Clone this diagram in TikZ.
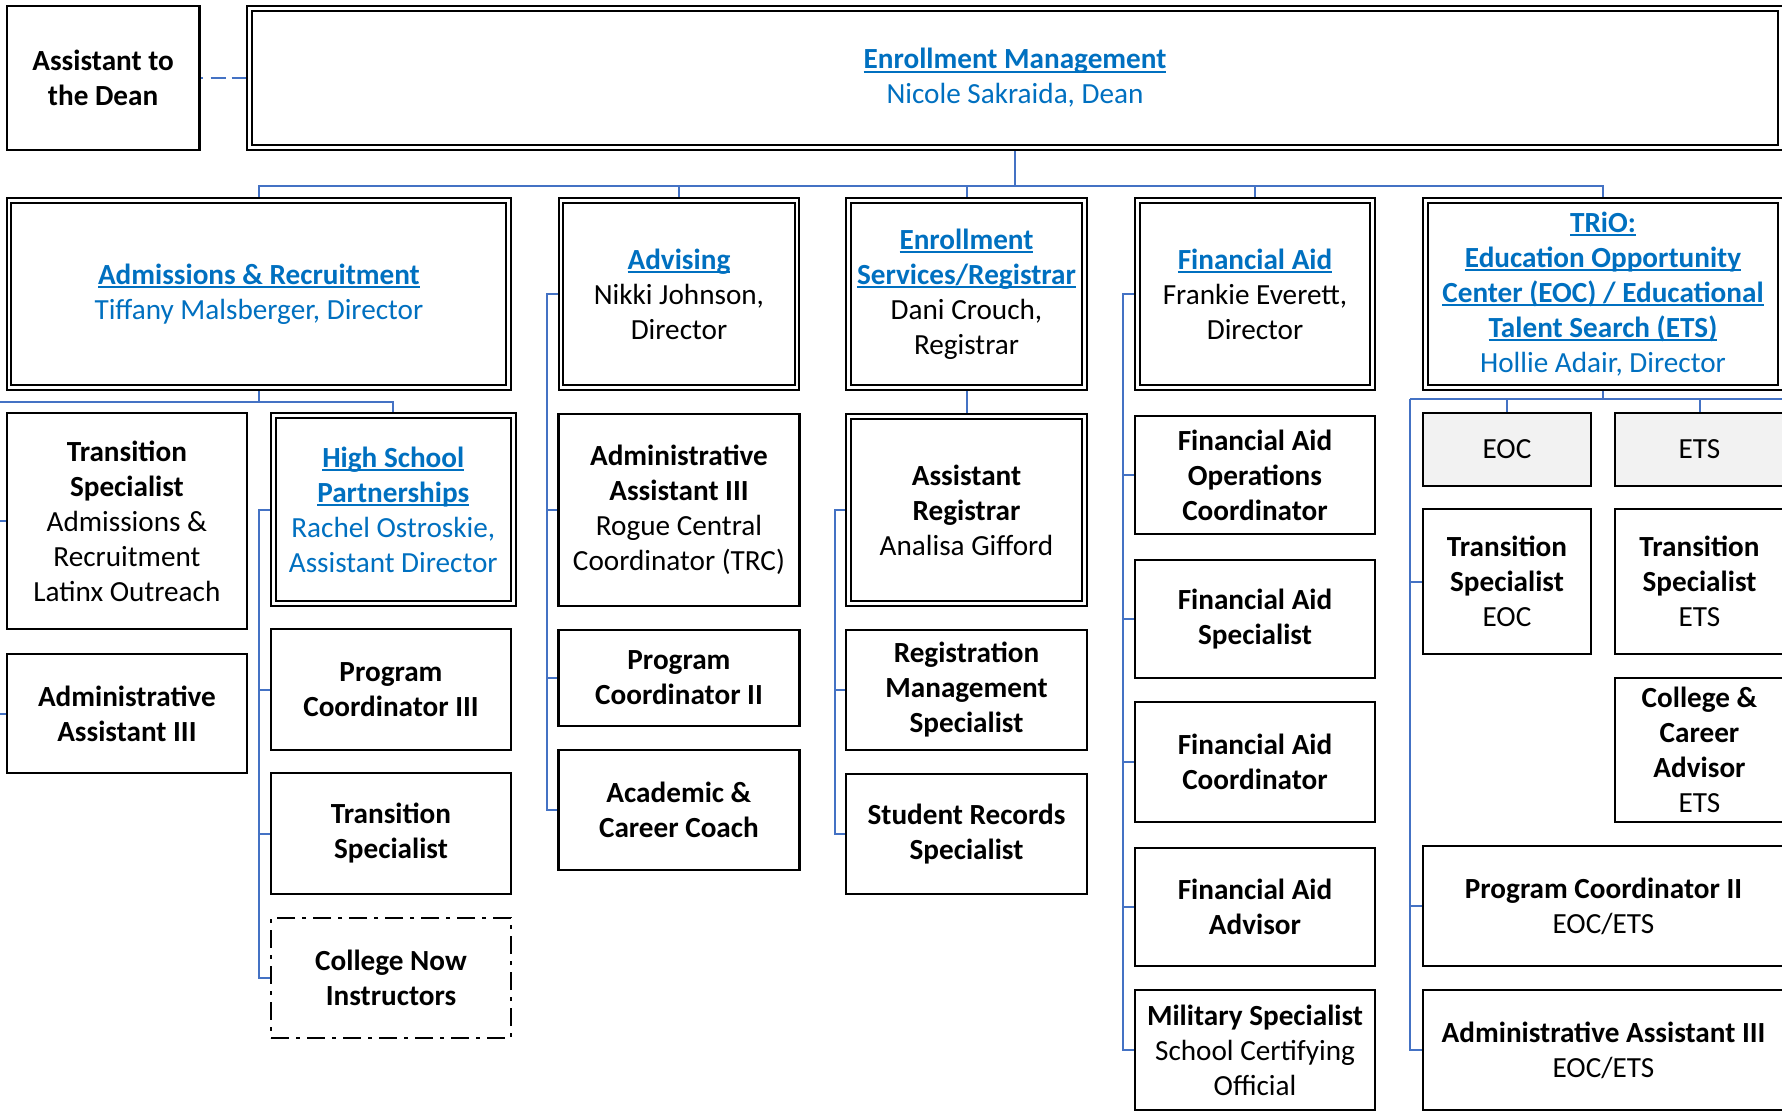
\documentclass[tikz,border=0pt]{standalone}
\usepackage{fontspec}
\setmainfont{Carlito}
\usetikzlibrary{backgrounds}
\definecolor{tblue}{HTML}{0070C0}
\definecolor{lblue}{HTML}{4472C4}
\definecolor{gfill}{HTML}{F2F2F2}
\newsavebox\ulbox
\newcommand\fs{\fontsize{14.6pt}{17.5pt}\selectfont}
\newcommand\ttl[1]{\leavevmode{\color{tblue}\sbox\ulbox{\bfseries #1}\rlap{\rule[-1.9pt]{\wd\ulbox}{0.9pt}}\usebox\ulbox}}
\newcommand\bnm[1]{\textcolor{tblue}{#1}}
\tikzset{
  rc/.style args={#1/#2/#3/#4}{at={({(#1+#3)/2},{(#2+#4)/2})},
     minimum width={(#3-#1)*0.5pt}, minimum height={(#4-#2)*0.5pt}},
  bx/.style={draw, line width=1.25pt, fill=white, inner sep=0pt, align=center, font=\fs},
  dbl/.style={bx, double, line width=1pt, double distance=1.3pt},
  gray/.style={bx, fill=gfill},
  dashdot/.style={bx, dash pattern=on 9pt off 3.5pt on 2pt off 3.5pt},
  conn/.style={draw=lblue, line width=1pt},
}
\begin{document}
\begin{tikzpicture}[x=0.5pt, y=-0.5pt]
\useasboundingbox (0,0) rectangle (1782,1112);
% top
\node[bx, rc=6.8/6/199.4/150] (asst) {\textbf{Assistant to}\\\textbf{the Dean}};
\node[dbl, rc=249.3/8.3/1780.7/147.7] (em) {\ttl{Enrollment Management}\\\bnm{Nicole Sakraida, Dean}};
% directors
\node[dbl, rc=9.1/200.3/508.7/387.7] (adm) {\ttl{Admissions \& Recruitment}\\\bnm{Tiffany Malsberger, Director}};
\node[dbl, rc=560.8/200.3/797.1/387.7] (adv) {\ttl{Advising}\\Nikki Johnson,\\Director};
\node[dbl, rc=848.3/200.3/1084.7/387.7] (es) {\ttl{Enrollment}\\\ttl{Services/Registrar}\\Dani Crouch,\\Registrar};
\node[dbl, rc=1137.3/200.3/1372.7/387.7] (fa) {\ttl{Financial Aid}\\Frankie Everett,\\Director};
\node[dbl, rc=1425.3/200.3/1780.7/387.7] (trio) {\ttl{TRiO:}\\\ttl{Education Opportunity}\\\ttl{Center (EOC) / Educational}\\\ttl{Talent Search (ETS)}\\\bnm{Hollie Adair, Director}};
% admissions column
\node[bx, rc=6.8/413/247/629] (ts1) {\textbf{Transition}\\\textbf{Specialist}\\Admissions \&\\Recruitment\\Latinx Outreach};
\node[bx, rc=6.8/654/247/773] (aa1) {\textbf{Administrative}\\\textbf{Assistant III}};
\node[dbl, rc=273.3/415.3/513.2/603.7] (hs) {\ttl{High School}\\\ttl{Partnerships}\\\bnm{Rachel Ostroskie,}\\\bnm{Assistant Director}};
\node[bx, rc=271/629/511/750] (pc3) {\textbf{Program}\\\textbf{Coordinator III}};
\node[bx, rc=271/773/511/894] (ts2) {\textbf{Transition}\\\textbf{Specialist}};
\node[dashdot, rc=271/918/511/1038] (cn) {\textbf{College Now}\\\textbf{Instructors}};
% advising column
\node[bx, rc=558.5/414/799.4/606] (aatrc) {\textbf{Administrative}\\\textbf{Assistant III}\\Rogue Central\\Coordinator (TRC)};
\node[bx, rc=558.5/630/799.4/726] (pc2a) {\textbf{Program}\\\textbf{Coordinator II}};
\node[bx, rc=558.5/750/799.4/870] (acc) {\textbf{Academic \&}\\\textbf{Career Coach}};
% enrollment services column
\node[dbl, rc=848.3/416.3/1084.7/603.7] (ar) {\textbf{Assistant}\\\textbf{Registrar}\\Analisa Gifford};
\node[bx, rc=846/630/1087/750] (rms) {\textbf{Registration}\\\textbf{Management}\\\textbf{Specialist}};
\node[bx, rc=846/774/1087/894] (srs) {\textbf{Student Records}\\\textbf{Specialist}};
% financial aid column
\node[bx, rc=1135/416/1375/534] (faoc) {\textbf{Financial Aid}\\\textbf{Operations}\\\textbf{Coordinator}};
\node[bx, rc=1135/560/1375/678] (fas) {\textbf{Financial Aid}\\\textbf{Specialist}};
\node[bx, rc=1135/702/1375/822] (fac) {\textbf{Financial Aid}\\\textbf{Coordinator}};
\node[bx, rc=1135/848/1375/966] (faa) {\textbf{Financial Aid}\\\textbf{Advisor}};
\node[bx, rc=1135/990/1375/1110] (mil) {\textbf{Military Specialist}\\School Certifying\\Official};
% trio column
\node[gray, rc=1423/413/1591/486] (eoc) {EOC};
\node[gray, rc=1615/413/1784/486] (ets) {ETS};
\node[bx, rc=1423/509/1591/654] (tseoc) {\textbf{Transition}\\\textbf{Specialist}\\EOC};
\node[bx, rc=1615/509/1784/654] (tsets) {\textbf{Transition}\\\textbf{Specialist}\\ETS};
\node[bx, rc=1615/678/1784/822] (cca) {\textbf{College \&}\\\textbf{Career}\\\textbf{Advisor}\\ETS};
\node[bx, rc=1423/846/1784/966] (pc2b) {\textbf{Program Coordinator II}\\EOC/ETS};
\node[bx, rc=1423/990/1784/1110] (aa3b) {\textbf{Administrative Assistant III}\\EOC/ETS};
% connectors
\coordinate (busY) at (0,186);
\coordinate (admY) at (0,402);
\coordinate (admX) at (-4,0);
\coordinate (hsX) at (259,0);
\coordinate (advX) at (547,0);
\coordinate (arX) at (835,0);
\coordinate (faX) at (1123,0);
\coordinate (trY) at (0,399);
\coordinate (trX) at (1410,0);
\coordinate (trEnd) at (1800,399);
\begin{pgfonlayer}{background}
\draw[conn, dash pattern=on 1pt off 4pt on 7.5pt off 3pt on 9pt off 1pt] (asst.east) -- (em.west);
\draw[conn] (em.south) -- (em.south |- busY);
\draw[conn] (adm.north) |- (trio.north |- busY) -- (trio.north);
\draw[conn] (adv.north) -- (adv.north |- busY);
\draw[conn] (es.north) -- (es.north |- busY);
\draw[conn] (fa.north) -- (fa.north |- busY);
% admissions
\draw[conn] (adm.south) -- (adm.south |- admY);
\draw[conn] (admX |- admY) -| (hs.north);
\draw[conn] (admX |- admY) |- (aa1.west);
\draw[conn] (admX |- ts1.west) -- (ts1.west);
% high school
\draw[conn] (hs.west) -- (hs.west -| hsX) |- (cn.west);
\draw[conn] (hsX |- pc3.west) -- (pc3.west);
\draw[conn] (hsX |- ts2.west) -- (ts2.west);
% advising
\draw[conn] (adv.west) -- (adv.west -| advX) |- (acc.west);
\draw[conn] (advX |- aatrc.west) -- (aatrc.west);
\draw[conn] (advX |- pc2a.west) -- (pc2a.west);
% enrollment services
\draw[conn] (es.south) -- (ar.north);
\draw[conn] (ar.west) -- (ar.west -| arX) |- (srs.west);
\draw[conn] (arX |- rms.west) -- (rms.west);
% financial aid
\draw[conn] (fa.west) -- (fa.west -| faX) |- (mil.west);
\draw[conn] (faX |- faoc.west) -- (faoc.west);
\draw[conn] (faX |- fas.west) -- (fas.west);
\draw[conn] (faX |- fac.west) -- (fac.west);
\draw[conn] (faX |- faa.west) -- (faa.west);
% trio
\draw[conn] (trio.south) -- (trio.south |- trY);
\draw[conn] (trX |- trY) -- (trEnd);
\draw[conn] (trX |- trY) |- (aa3b.west);
\draw[conn] (eoc.north |- trY) -- (eoc.north);
\draw[conn] (ets.north |- trY) -- (ets.north);
\draw[conn] (trX |- tseoc.west) -- (tseoc.west);
\draw[conn] (trX |- pc2b.west) -- (pc2b.west);
\end{pgfonlayer}
\end{tikzpicture}
\end{document}
